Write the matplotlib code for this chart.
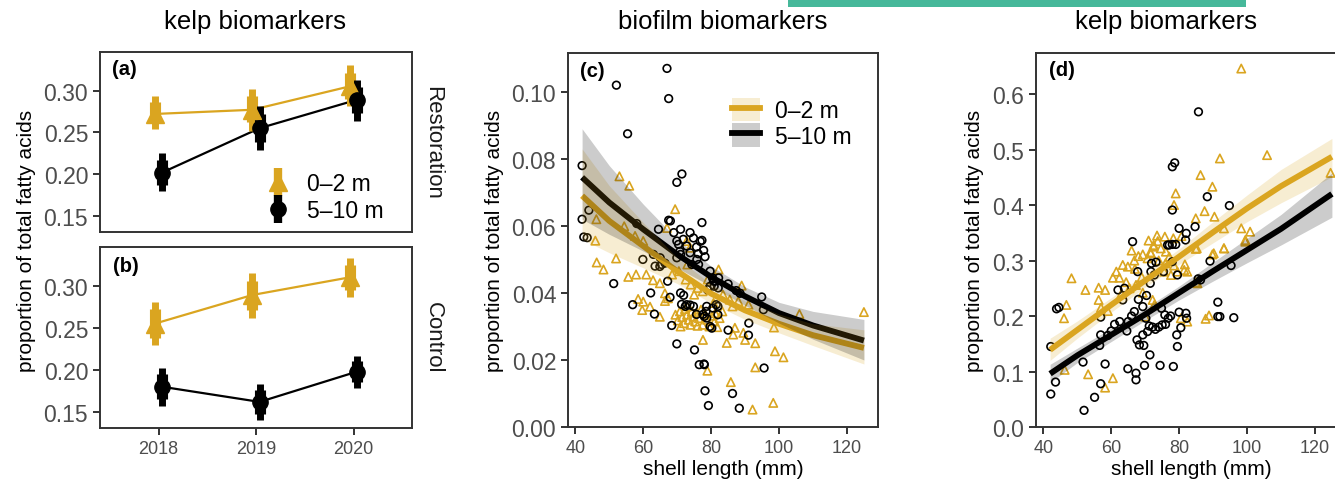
import numpy as np
import matplotlib.pyplot as plt
from matplotlib.lines import Line2D
from matplotlib.patches import Patch, Rectangle

plt.rcParams['font.family'] = ['Liberation Sans', 'DejaVu Sans']

GOLD = '#DAA520'
FRAME = '#333333'
TICKC = '#4d4d4d'
W, H = 1335, 485

# ---- panels (a) / (b): kelp biomarkers by year ----
years = [2018, 2019, 2020]
depths = ['0\u20132 m', '5\u201310 m']

rest_shallow = [0.272, 0.277, 0.305]
rest_shallow_lo = [0.254, 0.252, 0.282]
rest_shallow_hi = [0.293, 0.302, 0.330]
rest_shallow_ilo = [0.261, 0.262, 0.290]
rest_shallow_ihi = [0.286, 0.293, 0.321]

rest_deep = [0.202, 0.255, 0.289]
rest_deep_lo = [0.180, 0.229, 0.264]
rest_deep_hi = [0.225, 0.282, 0.312]
rest_deep_ilo = [0.187, 0.238, 0.273]
rest_deep_ihi = [0.217, 0.272, 0.304]

ctrl_shallow = [0.255, 0.289, 0.310]
ctrl_shallow_lo = [0.230, 0.262, 0.287]
ctrl_shallow_hi = [0.281, 0.315, 0.333]
ctrl_shallow_ilo = [0.238, 0.271, 0.295]
ctrl_shallow_ihi = [0.272, 0.306, 0.325]

ctrl_deep = [0.180, 0.162, 0.198]
ctrl_deep_lo = [0.157, 0.141, 0.179]
ctrl_deep_hi = [0.2025, 0.183, 0.217]
ctrl_deep_ilo = [0.165, 0.148, 0.186]
ctrl_deep_ihi = [0.195, 0.176, 0.210]

# ---- panel (c): biofilm biomarkers vs shell length ----
c_deep_x = [42.0, 42.0, 52.1, 67.0, 67.5, 55.4, 71.4, 69.9, 77.3, 67.5, 68.0, 64.5, 58.1, 44.0,
            42.5, 43.5, 71.0, 69.0, 73.8, 77.3, 77.8, 78.2,
            51.3, 56.9, 62.2, 63.3, 59.9, 67.9, 67.2, 68.4, 69.9, 71.9, 72.4, 72.8, 74.8, 75.1,
            76.5, 78.0, 78.0, 78.7, 79.7, 80.2, 78.7, 78.2, 79.2, 86.3, 88.3, 85.0, 91.0, 91.1,
            95.6, 94.9, 95.4, 82.0, 82.0, 85.0, 87.4, 82.2,
            74.8, 76.8, 72.8, 73.8, 71.0, 75.8, 74.3, 76.3, 63.0, 65.0, 63.5, 65.4, 79.7, 80.7,
            70.4, 69.9, 71.8, 70.8, 69.9, 66.4, 64.9, 75.7, 76.2, 80.4, 78.9, 80.9, 79.7, 82.1,
            88.5, 78.5, 80.5, 81.5, 77.6, 75.7, 71.3, 73.8, 71.0, 77.9]
c_deep_y = [0.078, 0.062, 0.102, 0.107, 0.098, 0.0875, 0.0755, 0.073, 0.061, 0.0617, 0.0615, 0.059,
            0.0607, 0.0647, 0.0567, 0.0565, 0.059, 0.058, 0.058, 0.0557, 0.0527, 0.0508,
            0.0428, 0.0365, 0.040, 0.0337, 0.050, 0.0387, 0.0435, 0.0303, 0.0248, 0.0393, 0.036,
            0.0365, 0.036, 0.023, 0.0186, 0.0186, 0.033, 0.0325, 0.030, 0.0295, 0.036, 0.0108,
            0.0064, 0.010, 0.0056, 0.0289, 0.0274, 0.031, 0.0176, 0.0388, 0.035, 0.0335, 0.036,
            0.0427, 0.0407, 0.0445,
            0.0564, 0.0554, 0.054, 0.052, 0.0515, 0.050, 0.0485, 0.0485, 0.0515, 0.0505, 0.048,
            0.0485, 0.0465, 0.0435, 0.0545, 0.0555, 0.056, 0.0524, 0.0505, 0.0489, 0.0479, 0.0537,
            0.0517, 0.0445, 0.041, 0.042, 0.042, 0.0415, 0.0399, 0.0345, 0.0355, 0.0365, 0.0336,
            0.0336, 0.0366, 0.0364, 0.040, 0.0188]

c_shallow_x = [53.0, 55.9, 46.2, 45.9, 69.4, 67.0, 54.4, 57.6, 60.0, 72.8, 73.8,
               46.3, 48.3, 52.0, 55.6, 57.9, 60.9, 62.9, 64.9, 58.5, 60.0, 59.7, 62.0, 64.9,
               66.4, 67.3, 66.4,
               69.5, 70.2, 70.8, 71.5, 72.0, 72.3, 72.9, 73.4, 73.9, 74.3, 74.8, 75.3, 75.9,
               76.4, 77.0, 77.5, 78.2, 78.8, 79.5, 80.3, 81.0, 81.8, 82.5, 83.3, 71.0, 73.0, 76.0,
               77.6, 78.9, 85.8, 84.6, 86.5, 87.0, 89.5, 90.0, 93.0, 93.0, 92.2, 98.3, 98.8, 101.3,
               98.5, 106.0, 125.0, 82.2, 89.0, 86.3, 80.7, 81.2,
               70.5, 72.5, 74.0, 76.0, 73.0, 68.5, 75.0, 77.5, 83.5, 85.5, 88.0, 91.0, 79.0]
c_shallow_y = [0.0748, 0.072, 0.062, 0.0556, 0.065, 0.0594, 0.0599, 0.057, 0.0555, 0.0555, 0.0535,
               0.0491, 0.047, 0.0503, 0.0448, 0.0455, 0.0455, 0.0438, 0.0429, 0.0382, 0.0374,
               0.0349, 0.0359, 0.0329, 0.0399, 0.0384, 0.0376,
               0.0335, 0.0318, 0.0345, 0.0328, 0.0310, 0.0352, 0.0335, 0.0320, 0.0305, 0.0345,
               0.0330, 0.0315, 0.0340, 0.0325, 0.0350, 0.0305, 0.0338, 0.0320, 0.0300, 0.0332,
               0.0315, 0.0298, 0.0325, 0.0345, 0.0300, 0.0360, 0.0302,
               0.026, 0.0168, 0.0134, 0.0251, 0.0276, 0.0296, 0.0281, 0.026, 0.025, 0.0178,
               0.0052, 0.0072, 0.0226, 0.0208, 0.0297, 0.0337, 0.0343, 0.047, 0.0422, 0.036,
               0.037, 0.034,
               0.0465, 0.0440, 0.0425, 0.0415, 0.0485, 0.0455, 0.0395, 0.0405, 0.0395, 0.038,
               0.0375, 0.0365, 0.044]

fit_x = [42, 50, 60, 70, 80, 90, 100, 110, 125]
c_shallow_fit = [0.069, 0.0615, 0.0540, 0.0465, 0.0398, 0.0348, 0.0308, 0.0274, 0.0236]
c_shallow_lo = [0.056, 0.052, 0.0475, 0.0428, 0.0370, 0.0321, 0.0281, 0.0243, 0.0188]
c_shallow_hi = [0.083, 0.072, 0.061, 0.0505, 0.0426, 0.0376, 0.0337, 0.0308, 0.029]
c_deep_fit = [0.0745, 0.067, 0.059, 0.0515, 0.0448, 0.0390, 0.0340, 0.0303, 0.0258]
c_deep_lo = [0.062, 0.0575, 0.0525, 0.0475, 0.042, 0.0363, 0.031, 0.0262, 0.0200]
c_deep_hi = [0.089, 0.078, 0.0665, 0.056, 0.048, 0.0418, 0.0372, 0.0345, 0.0321]

# ---- panel (d): kelp biomarkers vs shell length ----
d_deep_x = [42.2, 42.2, 43.6, 43.9, 44.6, 51.7, 52.0, 55.1, 56.9, 56.9, 56.6, 56.9, 58.2, 60.0,
            62.0, 63.9, 63.4, 64.6, 64.9, 66.3, 67.3, 67.3, 67.6, 68.3, 69.6, 69.8, 67.8, 66.8,
            69.3, 69.3, 70.7, 70.4, 70.2, 71.4, 71.2, 72.2, 73.0, 74.0, 75.0, 71.9, 73.2, 71.7,
            72.7, 71.5, 74.4, 74.8, 75.8, 76.8, 77.1, 78.0, 79.0, 75.4, 78.0, 79.5, 78.3, 79.3,
            79.5, 80.5, 80.0, 82.0, 82.2, 85.6, 86.3, 89.1, 91.4, 91.4, 92.0, 95.3, 96.1, 85.7,
            78.0, 78.7, 78.0, 88.3, 94.8, 80.0, 82.1, 81.9, 84.7, 76.6, 65.0, 66.0, 68.0, 61.0,
            59.0, 62.5, 76.0, 77.5]
d_deep_y = [0.145, 0.0594, 0.081, 0.213, 0.2155, 0.117, 0.030, 0.0535, 0.198, 0.166, 0.147, 0.078,
            0.1135, 0.173, 0.247, 0.250, 0.229, 0.173, 0.105, 0.334, 0.097, 0.085, 0.157, 0.148,
            0.147, 0.111, 0.280, 0.208, 0.217, 0.166, 0.172, 0.237, 0.196, 0.130, 0.182, 0.180,
            0.176, 0.180, 0.184, 0.295, 0.297, 0.280, 0.274, 0.259, 0.111, 0.214, 0.202, 0.196,
            0.328, 0.329, 0.329, 0.280, 0.298, 0.274, 0.109, 0.166, 0.145, 0.179, 0.207, 0.205,
            0.196, 0.267, 0.265, 0.299, 0.225, 0.199, 0.199, 0.291, 0.197, 0.568, 0.469, 0.476,
            0.391, 0.415, 0.399, 0.358, 0.349, 0.337, 0.361, 0.328, 0.190, 0.200, 0.230, 0.185,
            0.165, 0.190, 0.185, 0.200]

d_shallow_x = [98.3, 105.9, 124.6, 92.0, 86.3, 89.8, 79.0, 78.5, 87.5, 84.9, 90.4, 93.2, 98.3,
               100.9, 99.5, 93.2, 90.2, 85.2, 73.5, 71.0, 72.5, 71.5, 75.8, 78.3, 80.7, 48.3, 52.4,
               56.3, 58.2, 56.3, 46.8, 46.1, 46.3, 53.2, 58.2, 60.5, 59.0, 60.5, 61.5, 62.4, 63.4,
               64.9, 66.8, 68.0, 69.3, 70.7, 71.7, 64.4, 65.4, 67.3, 69.3, 70.0, 72.2, 72.7, 72.5,
               73.7, 74.6, 76.1, 77.1, 78.5, 79.5, 81.7, 81.5, 82.4, 84.9, 84.9, 85.4, 82.4, 80.5,
               87.8, 88.8, 89.8, 93.2, 99.5, 75.6, 77.6, 67.0, 69.0, 74.0, 76.0, 66.0, 63.0, 57.0]
d_shallow_y = [0.646, 0.490, 0.458, 0.484, 0.454, 0.433, 0.421, 0.400, 0.389, 0.376, 0.379, 0.358,
               0.358, 0.352, 0.334, 0.322, 0.313, 0.322, 0.345, 0.336, 0.325, 0.315, 0.343, 0.340,
               0.344, 0.268, 0.247, 0.251, 0.247, 0.229, 0.220, 0.196, 0.103, 0.095, 0.071, 0.088,
               0.209, 0.269, 0.280, 0.269, 0.292, 0.289, 0.300, 0.308, 0.311, 0.304, 0.313, 0.261,
               0.250, 0.256, 0.242, 0.199, 0.229, 0.220, 0.328, 0.335, 0.322, 0.316, 0.307, 0.291,
               0.280, 0.293, 0.283, 0.280, 0.321, 0.261, 0.259, 0.190, 0.196, 0.195, 0.201, 0.311,
               0.322, 0.337, 0.280, 0.274, 0.285, 0.270, 0.300, 0.295, 0.318, 0.240, 0.215]

d_shallow_fit = [0.139, 0.175, 0.220, 0.264, 0.307, 0.351, 0.394, 0.434, 0.487]
d_shallow_lo = [0.120, 0.160, 0.207, 0.252, 0.293, 0.332, 0.370, 0.404, 0.451]
d_shallow_hi = [0.160, 0.191, 0.233, 0.276, 0.321, 0.370, 0.418, 0.464, 0.520]
d_deep_fit = [0.096, 0.129, 0.166, 0.203, 0.242, 0.281, 0.319, 0.357, 0.420]
d_deep_lo = [0.080, 0.116, 0.154, 0.192, 0.229, 0.263, 0.296, 0.328, 0.378]
d_deep_hi = [0.113, 0.142, 0.178, 0.214, 0.254, 0.297, 0.340, 0.383, 0.458]


def box(l, t, r, b):
    return [l / W, 1 - b / H, (r - l) / W, (b - t) / H]


def style(ax, ysize=16.5, xsize=13):
    for s in ax.spines.values():
        s.set_color(FRAME)
        s.set_linewidth(1.4)
    ax.tick_params(color=FRAME, width=1.4, length=5, labelcolor=TICKC)
    ax.tick_params(axis='y', labelsize=ysize)
    ax.tick_params(axis='x', labelsize=xsize)


fig = plt.figure(figsize=(W / 100, H / 100), dpi=100)

ax_a = fig.add_axes(box(100, 53, 412, 233))
ax_b = fig.add_axes(box(100, 248, 412, 429))
ax_c = fig.add_axes(box(568, 54, 878, 428))
ax_d = fig.add_axes(box(1036, 54, 1346, 428))

dodge = 0.037
x = np.array(years, dtype=float)

panels_ab = [
    (ax_a, [(rest_shallow, rest_shallow_lo, rest_shallow_hi, rest_shallow_ilo, rest_shallow_ihi),
            (rest_deep, rest_deep_lo, rest_deep_hi, rest_deep_ilo, rest_deep_ihi)]),
    (ax_b, [(ctrl_shallow, ctrl_shallow_lo, ctrl_shallow_hi, ctrl_shallow_ilo, ctrl_shallow_ihi),
            (ctrl_deep, ctrl_deep_lo, ctrl_deep_hi, ctrl_deep_ilo, ctrl_deep_ihi)]),
]
series_style = [(GOLD, '^', 12.5, -dodge), ('black', 'o', 11, dodge)]

for ax, series in panels_ab:
    for (mean, lo, hi, ilo, ihi), (col, mk, ms, off) in zip(series, series_style):
        xx = x + off
        ax.plot(xx, mean, color=col, lw=1.6, zorder=2)
        ax.vlines(xx, lo, hi, color=col, lw=5, zorder=3)
        ax.vlines(xx, ilo, ihi, color=col, lw=8, zorder=3)
        ax.plot(xx, mean, ls='none', marker=mk, ms=ms, color=col, zorder=4)
    ax.set_xlim(2017.4, 2020.6)
    ax.set_ylim(0.131, 0.346)
    ax.set_yticks([0.15, 0.20, 0.25, 0.30])
    ax.set_yticklabels(['0.15', '0.20', '0.25', '0.30'])
    style(ax)

ax_a.set_xticks([])
ax_b.set_xticks(years)
ax_b.set_xticklabels([str(y) for y in years])

handles_a = [
    (Line2D([], [], ls='none', marker='|', ms=20, mew=6, color=GOLD),
     Line2D([], [], ls='none', marker='^', ms=12.5, color=GOLD)),
    (Line2D([], [], ls='none', marker='|', ms=20, mew=6, color='black'),
     Line2D([], [], ls='none', marker='o', ms=11, color='black')),
]
ax_a.legend(handles_a, depths, loc='upper left', bbox_to_anchor=(0.535, 0.335),
            frameon=False, fontsize=16.5, handlelength=1.0, handletextpad=0.75,
            labelspacing=0.2, borderpad=0, borderaxespad=0)

ax_a.text(0.038, 0.96, '(a)', transform=ax_a.transAxes, ha='left', va='top',
          fontsize=14.5, fontweight='bold')
ax_b.text(0.042, 0.95, '(b)', transform=ax_b.transAxes, ha='left', va='top',
          fontsize=14.5, fontweight='bold')

# ---- scatter panels ----
for ax, (sx, sy, dx, dy), (sf, slo, shi, df, dlo, dhi), lines_on_top in [
    (ax_c, (c_shallow_x, c_shallow_y, c_deep_x, c_deep_y),
     (c_shallow_fit, c_shallow_lo, c_shallow_hi, c_deep_fit, c_deep_lo, c_deep_hi), False),
    (ax_d, (d_shallow_x, d_shallow_y, d_deep_x, d_deep_y),
     (d_shallow_fit, d_shallow_lo, d_shallow_hi, d_deep_fit, d_deep_lo, d_deep_hi), True),
]:
    ax.scatter(sx, sy, marker='^', s=36, facecolors='none', edgecolors=GOLD,
               linewidths=1.2, zorder=2)
    ax.scatter(dx, dy, marker='o', s=30, facecolors='none', edgecolors='black',
               linewidths=1.2, zorder=2)
    lz = 4 if lines_on_top else 2.5
    ax.plot(fit_x, sf, color=GOLD, lw=4.2, zorder=lz, solid_capstyle='butt')
    ax.plot(fit_x, df, color='black', lw=4.2, zorder=lz, solid_capstyle='butt')
    ax.fill_between(fit_x, slo, shi, color=GOLD, alpha=0.2, lw=0, zorder=3)
    ax.fill_between(fit_x, dlo, dhi, color='black', alpha=0.2, lw=0, zorder=3)
    ax.set_xlim(37.85, 129.15)
    ax.set_xticks([40, 60, 80, 100, 120])
    style(ax)

ax_c.set_ylim(0, 0.1116)
ax_c.set_yticks([0.0, 0.02, 0.04, 0.06, 0.08, 0.10])
ax_c.set_yticklabels(['0.00', '0.02', '0.04', '0.06', '0.08', '0.10'])
ax_d.set_ylim(0, 0.674)
ax_d.set_yticks([0.0, 0.1, 0.2, 0.3, 0.4, 0.5, 0.6])
ax_d.set_yticklabels(['0.0', '0.1', '0.2', '0.3', '0.4', '0.5', '0.6'])

handles_c = [
    (Patch(facecolor=GOLD, alpha=0.2, edgecolor='none'), Line2D([], [], color=GOLD, lw=4.2)),
    (Patch(facecolor='black', alpha=0.2, edgecolor='none'), Line2D([], [], color='black', lw=4.2)),
]
ax_c.legend(handles_c, depths, loc='upper left', bbox_to_anchor=(0.529, 0.88),
            frameon=False, fontsize=16.5, handlelength=1.22, handleheight=1.18,
            handletextpad=0.65, labelspacing=0.05, borderpad=0, borderaxespad=0)

ax_c.text(0.039, 0.979, '(c)', transform=ax_c.transAxes, ha='left', va='top',
          fontsize=14.5, fontweight='bold')
ax_d.text(0.042, 0.981, '(d)', transform=ax_d.transAxes, ha='left', va='top',
          fontsize=14.5, fontweight='bold')

# ---- figure-level text ----
ylab = 'proportion of total fatty acids'
for xp in (27, 494, 974):
    fig.text(xp / W, 1 - 241 / H, ylab, rotation=90, ha='center', va='center', fontsize=15)
for xp in (723, 1191):
    fig.text(xp / W, 1 - 470 / H, 'shell length (mm)', ha='center', va='center', fontsize=15)

fig.text(255 / W, 1 - 22 / H, 'kelp biomarkers', ha='center', va='center', fontsize=18.5)
fig.text(723 / W, 1 - 22 / H, 'biofilm biomarkers', ha='center', va='center', fontsize=18.5)
fig.text(1166 / W, 1 - 22 / H, 'kelp biomarkers', ha='center', va='center', fontsize=18.5)

fig.text(433 / W, 1 - 143 / H, 'Restoration', rotation=270, ha='center', va='center',
         fontsize=16, color='#1a1a1a')
fig.text(433 / W, 1 - 338 / H, 'Control', rotation=270, ha='center', va='center',
         fontsize=16, color='#1a1a1a')

fig.patches.append(Rectangle((788 / W, 1 - 8 / H), (1246 - 788) / W, 8 / H,
                             transform=fig.transFigure, facecolor='#46b89a',
                             edgecolor='none', zorder=5))

fig.savefig('out.png', dpi=100)
